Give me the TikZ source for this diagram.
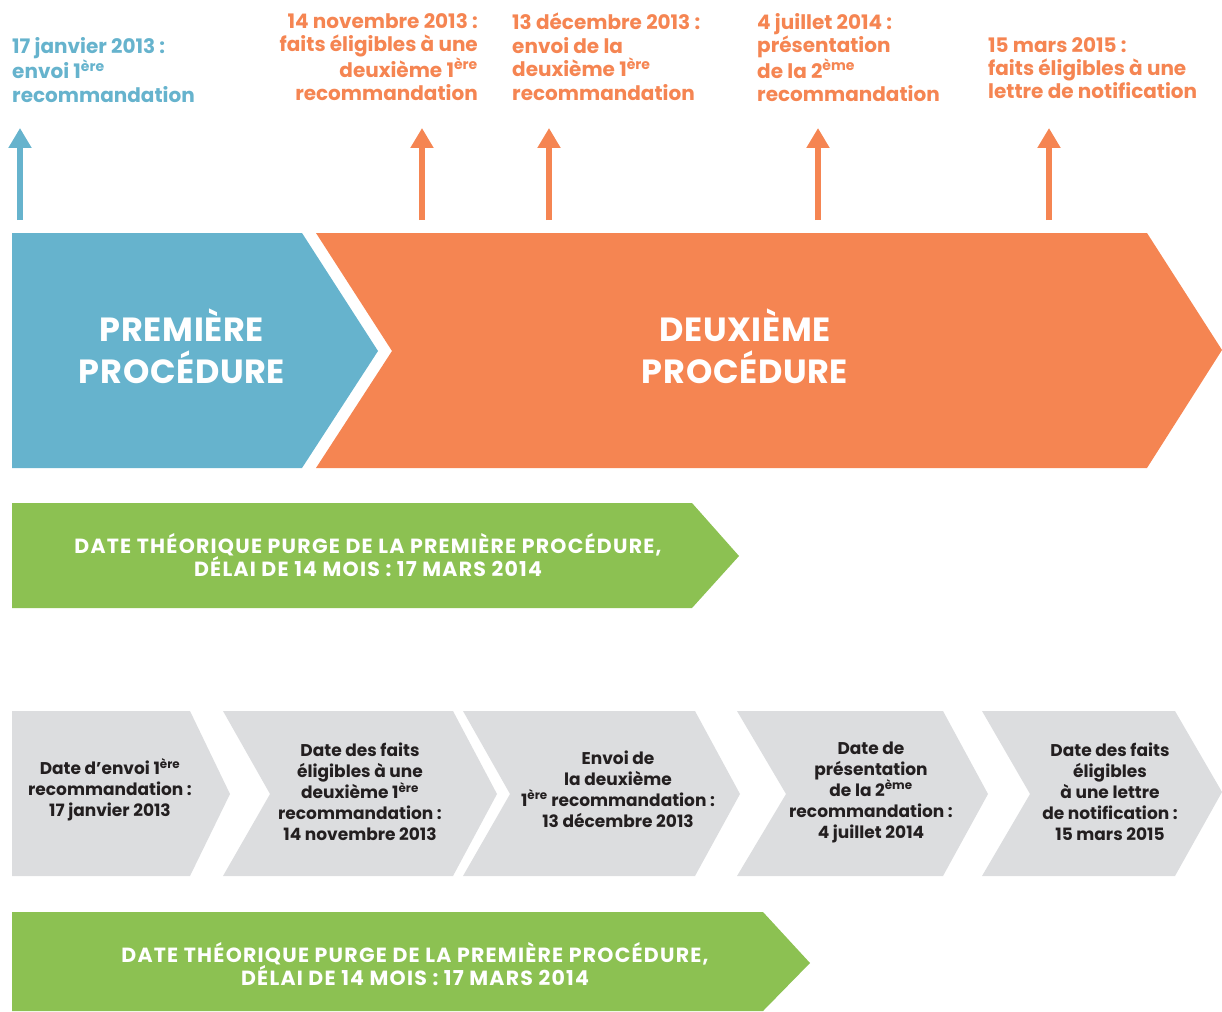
\documentclass[tikz,border=0pt]{standalone}
\usepackage{fontspec}
\setmainfont{Poppins}
\usetikzlibrary{arrows.meta}
\definecolor{bleuP}{HTML}{66B3CD}
\definecolor{orangeP}{HTML}{F58552}
\definecolor{vertP}{HTML}{8CC152}
\definecolor{grisP}{HTML}{DCDDDF}
\definecolor{noirP}{HTML}{231F20}
\tikzset{
  etiq/.style={inner sep=0pt, align=left, font=\bfseries\fontsize{20}{23.4}\selectfont},
  titre/.style={inner sep=0pt, text=white, align=center, font=\bfseries\fontsize{33.5}{42}\selectfont\addfontfeature{LetterSpace=2}},
  bandeau/.style={inner sep=0pt, text=white, align=center, font=\bfseries\fontsize{20.5}{21}\selectfont\addfontfeature{LetterSpace=6}},
  etape/.style={inner sep=0pt, text=noirP, align=center, font=\bfseries\fontsize{17}{21}\selectfont},
  fleche/.style={line width=6pt, -{Triangle[width=22pt,length=20pt]}},
}
\newcommand{\expo}[1]{\textsuperscript{#1}}
\begin{document}
\begin{tikzpicture}[x=1pt, y=-1pt]
\useasboundingbox (0,0) rectangle (1222,1011);

% Grandes flèches des deux procédures
\fill[bleuP] (12,233) -- (302,233) -- (378,351) -- (302,468) -- (12,468) -- cycle;
\fill[orangeP] (316,233) -- (1147,233) -- (1222,350) -- (1147,468) -- (316,468) -- (392,351) -- cycle;
\node[titre] (proc1) at (182,346) {PREMIÈRE\\PROCÉDURE};
\node[titre] (proc2) at (745,346) {DEUXIÈME\\PROCÉDURE};

% Dates au-dessus
\node[etiq, text=bleuP, anchor=north west] (lJan) at (12,37) {17 janvier 2013 :\\envoi 1\expo{ère}\\recommandation};
\node[etiq, text=orangeP, anchor=north east, align=right] (lNov) at (478,13) {14 novembre 2013 :\\faits éligibles à une\\deuxième 1\expo{ère}\\recommandation};
\node[etiq, text=orangeP, anchor=north west] (lDec) at (512,13) {13 décembre 2013 :\\envoi de la\\deuxième 1\expo{ère}\\recommandation};
\node[etiq, text=orangeP, anchor=north west] (lJui) at (757,13) {4 juillet 2014 :\\présentation\\de la 2\expo{ème}\\recommandation};
\node[etiq, text=orangeP, anchor=north west] (lMar) at (988,37) {15 mars 2015 :\\faits éligibles à une\\lettre de notification};

% Flèches verticales
\coordinate (bJan) at (20,220);  \coordinate (hJan) at (20,128);
\coordinate (bNov) at (422,220); \coordinate (hNov) at (422,128);
\coordinate (bDec) at (549,220); \coordinate (hDec) at (549,128);
\coordinate (bJui) at (818,220); \coordinate (hJui) at (818,128);
\coordinate (bMar) at (1049,220); \coordinate (hMar) at (1049,128);
\draw[fleche, bleuP] (bJan) -- (hJan);
\draw[fleche, orangeP] (bNov) -- (hNov);
\draw[fleche, orangeP] (bDec) -- (hDec);
\draw[fleche, orangeP] (bJui) -- (hJui);
\draw[fleche, orangeP] (bMar) -- (hMar);

% Bandeau vert 1
\fill[vertP] (12,503) -- (692,503) -- (739,556) -- (692,608) -- (12,608) -- cycle;
\node[bandeau] (purge1) at (368,555) {DATE THÉORIQUE PURGE DE LA PREMIÈRE PROCÉDURE,\\DÉLAI DE 14 MOIS : 17 MARS 2014};

% Étapes grises
\fill[grisP] (12,711) -- (190,711) -- (230,794) -- (190,876) -- (12,876) -- cycle;
\fill[grisP] (223,711) -- (453,711) -- (497,794) -- (453,876) -- (223,876) -- (270,794) -- cycle;
\fill[grisP] (463,711) -- (695,711) -- (740,794) -- (695,876) -- (463,876) -- (510,794) -- cycle;
\fill[grisP] (737,711) -- (943,711) -- (988,794) -- (943,876) -- (737,876) -- (786,794) -- cycle;
\fill[grisP] (982,711) -- (1175,711) -- (1222,792) -- (1175,876) -- (982,876) -- (1030,794) -- cycle;
\node[etape] (e1) at (110,790) {Date d’envoi 1\expo{ère}\\recommandation :\\17 janvier 2013};
\node[etape] (e2) at (360,792) {Date des faits\\éligibles à une\\deuxième 1\expo{ère}\\recommandation :\\14 novembre 2013};
\node[etape] (e3) at (618,789) {Envoi de\\la deuxième\\1\expo{ère} recommandation :\\13 décembre 2013};
\node[etape] (e4) at (871,792) {Date de\\présentation\\de la 2\expo{ème}\\recommandation :\\4 juillet 2014};
\node[etape] (e5) at (1110,792) {Date des faits\\éligibles\\à une lettre\\de notification :\\15 mars 2015};

% Bandeau vert 2
\fill[vertP] (12,912) -- (763,912) -- (810,963) -- (763,1011) -- (12,1011) -- cycle;
\node[bandeau] (purge2) at (415,964) {DATE THÉORIQUE PURGE DE LA PREMIÈRE PROCÉDURE,\\DÉLAI DE 14 MOIS : 17 MARS 2014};
\end{tikzpicture}
\end{document}
